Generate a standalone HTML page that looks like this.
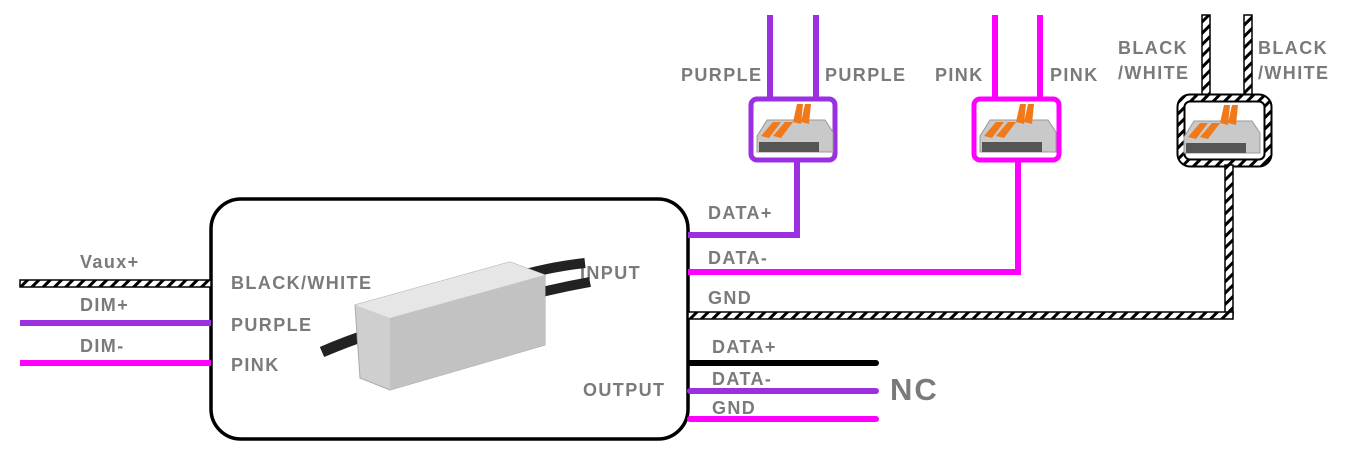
<!DOCTYPE html>
<html><head><meta charset="utf-8"><style>
html,body{margin:0;padding:0;background:#fff;}
svg{display:block}
text{font-family:"Liberation Sans",sans-serif;font-weight:bold;fill:#7a7a7a;font-size:18px;letter-spacing:1.4px}
</style></head><body>
<svg width="1350" height="453" viewBox="0 0 1350 453" xmlns="http://www.w3.org/2000/svg">
<defs>
<pattern id="hh" width="8" height="8" patternUnits="userSpaceOnUse" patternTransform="rotate(45)">
<rect width="8" height="8" fill="#fff"/><rect width="3" height="8" fill="#000"/></pattern>
<g id="conn">
 <path d="M-38 10 L-28 -6 L30 -6 L38 6 L38 26 L-38 26 Z" fill="#c9c9c9" stroke="#999"/>
 <rect x="-36" y="16" width="60" height="10" fill="#555"/>
 <path d="M-34 10 L-22 -4 L-14 -4 L-26 12 Z" fill="#f07a1a"/>
 <path d="M-22 10 L-10 -4 L-2 -4 L-14 12 Z" fill="#f07a1a"/>
 <path d="M-2 -4 L2 -22 L8 -22 L6 -2 Z" fill="#f07a1a"/>
 <path d="M6 -4 L10 -22 L16 -22 L14 -2 Z" fill="#f07a1a"/>
</g>
</defs>
<!-- main box -->
<rect x="211" y="199" width="477" height="240" rx="30" fill="#fff" stroke="#000" stroke-width="3.5"/>
<!-- left wires -->
<rect x="20" y="280" width="191" height="7" fill="url(#hh)" stroke="#000" stroke-width="1.5"/>
<line x1="20" y1="323" x2="211" y2="323" stroke="#9b30e0" stroke-width="6"/>
<line x1="20" y1="363" x2="211" y2="363" stroke="#ff00ff" stroke-width="6"/>
<text x="80" y="268">Vaux+</text>
<text x="80" y="311">DIM+</text>
<text x="80" y="352">DIM-</text>
<text x="231" y="289">BLACK/WHITE</text>
<text x="231" y="331">PURPLE</text>
<text x="231" y="371">PINK</text>
<text x="580" y="279">INPUT</text>
<text x="583" y="396">OUTPUT</text>
<!-- driver -->
<path d="M322 352 Q345 342 375 332" stroke="#222" stroke-width="11" fill="none"/>
<path d="M500 282 Q540 268 585 263" stroke="#222" stroke-width="10" fill="none"/>
<path d="M505 302 Q545 290 590 282" stroke="#222" stroke-width="10" fill="none"/>
<path d="M355 305 L510 262 L545 275 L545 345 L390 390 L360 378 Z" fill="#cfcfcf" stroke="#aaa"/>
<path d="M355 305 L510 262 L545 275 L390 318 Z" fill="#e6e6e6"/>
<path d="M390 318 L545 275 L545 345 L390 390 Z" fill="#c2c2c2"/>
<!-- purple connector -->
<line x1="770" y1="15" x2="770" y2="100" stroke="#9b30e0" stroke-width="6"/>
<line x1="816" y1="15" x2="816" y2="100" stroke="#9b30e0" stroke-width="6"/>
<rect x="751" y="99" width="84" height="61" rx="6" fill="#fff" stroke="#9b30e0" stroke-width="5"/>
<use href="#conn" x="795" y="126"/>
<polyline points="688,235 797,235 797,161" fill="none" stroke="#9b30e0" stroke-width="6"/>
<text x="681" y="81">PURPLE</text><text x="825" y="81">PURPLE</text>
<!-- pink connector -->
<line x1="995" y1="15" x2="995" y2="100" stroke="#ff00ff" stroke-width="6"/>
<line x1="1040" y1="15" x2="1040" y2="100" stroke="#ff00ff" stroke-width="6"/>
<rect x="974" y="99" width="85" height="61" rx="6" fill="#fff" stroke="#ff00ff" stroke-width="5"/>
<use href="#conn" x="1018" y="126"/>
<polyline points="688,272 1018,272 1018,161" fill="none" stroke="#ff00ff" stroke-width="6"/>
<text x="935" y="81">PINK</text><text x="1050" y="81">PINK</text>
<!-- black/white connector -->
<rect x="1202" y="15" width="8" height="84" fill="url(#hh)" stroke="#000" stroke-width="1.5"/>
<rect x="1244" y="15" width="8" height="84" fill="url(#hh)" stroke="#000" stroke-width="1.5"/>
<rect x="1181" y="98" width="87" height="65" rx="9" fill="none" stroke="#000" stroke-width="9"/>
<rect x="1181" y="98" width="87" height="65" rx="9" fill="none" stroke="url(#hh)" stroke-width="5"/>
<use href="#conn" x="1222" y="127"/>
<rect x="1225" y="165" width="8" height="150" fill="url(#hh)" stroke="#000" stroke-width="1.5"/>
<rect x="688" y="312" width="545" height="7" fill="url(#hh)" stroke="#000" stroke-width="1.5"/>
<text x="1118" y="54">BLACK</text><text x="1118" y="79">/WHITE</text>
<text x="1258" y="54">BLACK</text><text x="1258" y="79">/WHITE</text>
<text x="708" y="219">DATA+</text>
<text x="708" y="264">DATA-</text>
<text x="708" y="304">GND</text>
<!-- outputs -->
<line x1="690" y1="363" x2="876" y2="363" stroke="#000" stroke-width="6" stroke-linecap="round"/>
<line x1="690" y1="391" x2="876" y2="391" stroke="#9b30e0" stroke-width="6" stroke-linecap="round"/>
<line x1="690" y1="419" x2="876" y2="419" stroke="#ff00ff" stroke-width="6" stroke-linecap="round"/>
<text x="712" y="353">DATA+</text>
<text x="712" y="385">DATA-</text>
<text x="712" y="414">GND</text>
<text x="890" y="400" style="font-size:31px;letter-spacing:2px">NC</text>
</svg>
</body></html>
